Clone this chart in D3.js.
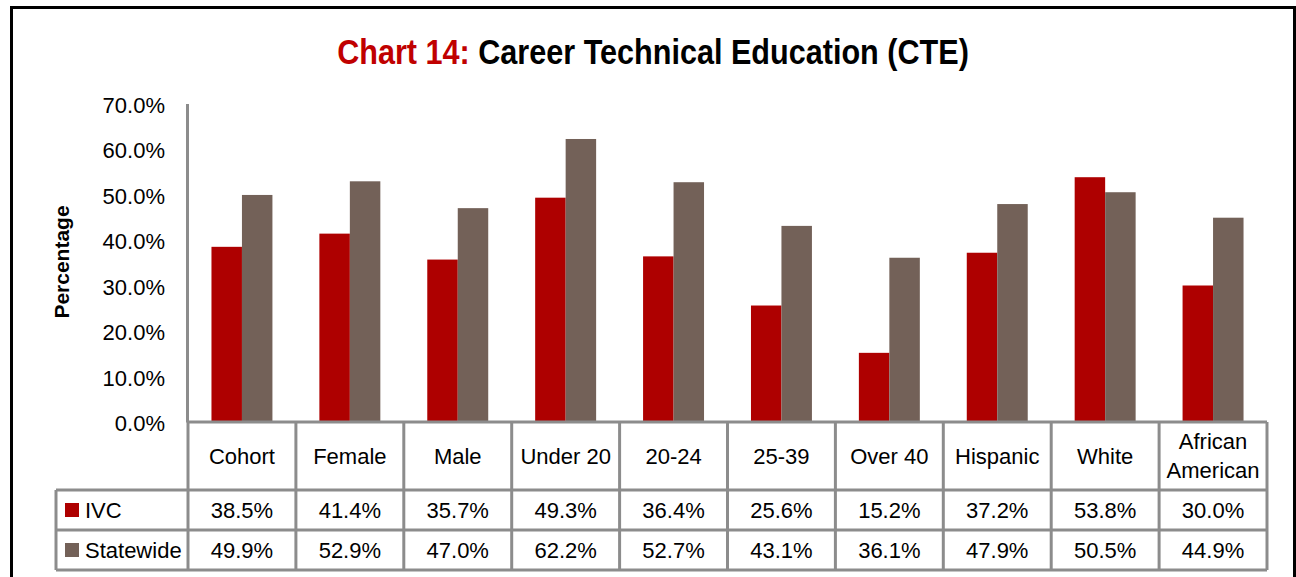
<!DOCTYPE html>
<html>
<head>
<meta charset="utf-8">
<script src="https://cdn.jsdelivr.net/npm/d3@7"></script>
<style>
  body { margin: 0; background: #fff; }
  text { font-family: "Liberation Sans", Arial, sans-serif; }
</style>
</head>
<body>
<div id="canvas"></div>
<script>
const categories = ["Cohort", "Female", "Male", "Under 20", "20-24", "25-39", "Over 40", "Hispanic", "White", "African American"];
const series = ["IVC", "Statewide"];
const ivcValues = [38.5, 41.4, 35.7, 49.3, 36.4, 25.6, 15.2, 37.2, 53.8, 30.0];
const statewideValues = [49.9, 52.9, 47.0, 62.2, 52.7, 43.1, 36.1, 47.9, 50.5, 44.9];
const yTicks = [0, 10, 20, 30, 40, 50, 60, 70];
const colors = ["#ae0000", "#736158"];

const W = 1296, H = 577;
const svg = d3.select("#canvas")
  .append("svg")
  .attr("width", W)
  .attr("height", H);

// outer frame
svg.append("rect")
  .attr("x", 11.5).attr("y", 7.5)
  .attr("width", 1283).attr("height", 620)
  .attr("fill", "#fff")
  .attr("stroke", "#000")
  .attr("stroke-width", 3);

// title (condensed look: squeeze horizontally)
const titleG = svg.append("g");
const title = titleG.append("text")
  .attr("x", 0).attr("y", 0)
  .attr("text-anchor", "middle")
  .style("font-weight", "bold")
  .style("font-size", "35px");
title.append("tspan").attr("fill", "#c00000").text("Chart 14: ");
title.append("tspan").attr("fill", "#000").text("Career Technical Education (CTE)");
const tw = title.node().getComputedTextLength();
titleG.attr("transform", `translate(653,64) scale(${632 / tw},1)`);

const plotLeft = 188, plotRight = 1267, plotTop = 103.5, plotBase = 422;
const rowH = [490, 530, 570];

const x = d3.scaleBand().domain(categories).range([plotLeft, plotRight]);
const x1 = d3.scaleBand().domain(series).range([0, x.bandwidth()]).paddingInner(0).paddingOuter(0.77);
const y = d3.scaleLinear().domain([0, 70]).range([plotBase, plotTop]);

// bars
const data = categories.map((c, i) => ({ cat: c, vals: [ivcValues[i], statewideValues[i]] }));
const groups = svg.append("g").selectAll("g")
  .data(data).join("g")
  .attr("transform", d => `translate(${x(d.cat)},0)`);
groups.selectAll("rect")
  .data(d => d.vals.map((v, k) => ({ s: series[k], v: v, k: k })))
  .join("rect")
  .attr("x", d => x1(d.s))
  .attr("y", d => y(d.v))
  .attr("width", x1.bandwidth())
  .attr("height", d => plotBase - y(d.v))
  .attr("fill", d => colors[d.k]);

// y axis
const yAxis = svg.append("g")
  .attr("transform", `translate(${plotLeft - 1},0)`)
  .call(d3.axisLeft(y).tickValues(yTicks).tickSize(0).tickPadding(22).tickFormat(d => d.toFixed(1) + "%"));
yAxis.select(".domain").attr("stroke", "#8c8c8c").attr("stroke-width", 3);
yAxis.selectAll("text")
  .style("font-size", "22px")
  .attr("fill", "#000")
  .attr("dy", "0.4em");

// y label
svg.append("text")
  .attr("transform", "translate(69,262) rotate(-90)")
  .attr("text-anchor", "middle")
  .style("font-size", "21px")
  .style("font-weight", "bold")
  .attr("fill", "#000")
  .text("Percentage");

// data table
const grid = svg.append("g").attr("stroke", "#8c8c8c").attr("stroke-width", 3).attr("fill", "none");
grid.append("line").attr("x1", plotLeft).attr("x2", plotRight).attr("y1", plotBase).attr("y2", plotBase);
rowH.forEach(h => {
  grid.append("line").attr("x1", 56).attr("x2", plotRight).attr("y1", h).attr("y2", h);
});
grid.append("line").attr("x1", 56).attr("x2", 56).attr("y1", rowH[0]).attr("y2", rowH[2]);
categories.forEach(c => {
  grid.append("line").attr("x1", x(c)).attr("x2", x(c)).attr("y1", plotBase).attr("y2", rowH[2]);
});
grid.append("line").attr("x1", plotRight).attr("x2", plotRight).attr("y1", plotBase).attr("y2", rowH[2]);

// category labels
const catText = svg.append("g").selectAll("text")
  .data(categories).join("text")
  .attr("text-anchor", "middle")
  .style("font-size", "22px")
  .attr("fill", "#000");
catText.each(function(d) {
  const words = d === "African American" ? ["African", "American"] : [d];
  const t = d3.select(this);
  const y0 = words.length === 1 ? 464 : 449;
  words.forEach((w, i) => {
    t.append("tspan").attr("x", x(d) + x.bandwidth() / 2).attr("y", y0 + i * 29).text(w);
  });
});

// table values
[ivcValues, statewideValues].forEach((vals, k) => {
  const cy = (rowH[k] + rowH[k + 1]) / 2;
  svg.append("g").selectAll("text")
    .data(vals).join("text")
    .attr("x", (d, i) => x(categories[i]) + x.bandwidth() / 2)
    .attr("y", cy + 8)
    .attr("text-anchor", "middle")
    .style("font-size", "22px")
    .attr("fill", "#000")
    .text(d => d.toFixed(1) + "%");
  // legend key
  svg.append("rect")
    .attr("x", 65).attr("y", cy - 7)
    .attr("width", 14).attr("height", 14)
    .attr("fill", colors[k]);
  svg.append("text")
    .attr("x", 85).attr("y", cy + 8)
    .style("font-size", "22px")
    .attr("fill", "#000")
    .text(series[k]);
});
</script>
</body>
</html>
